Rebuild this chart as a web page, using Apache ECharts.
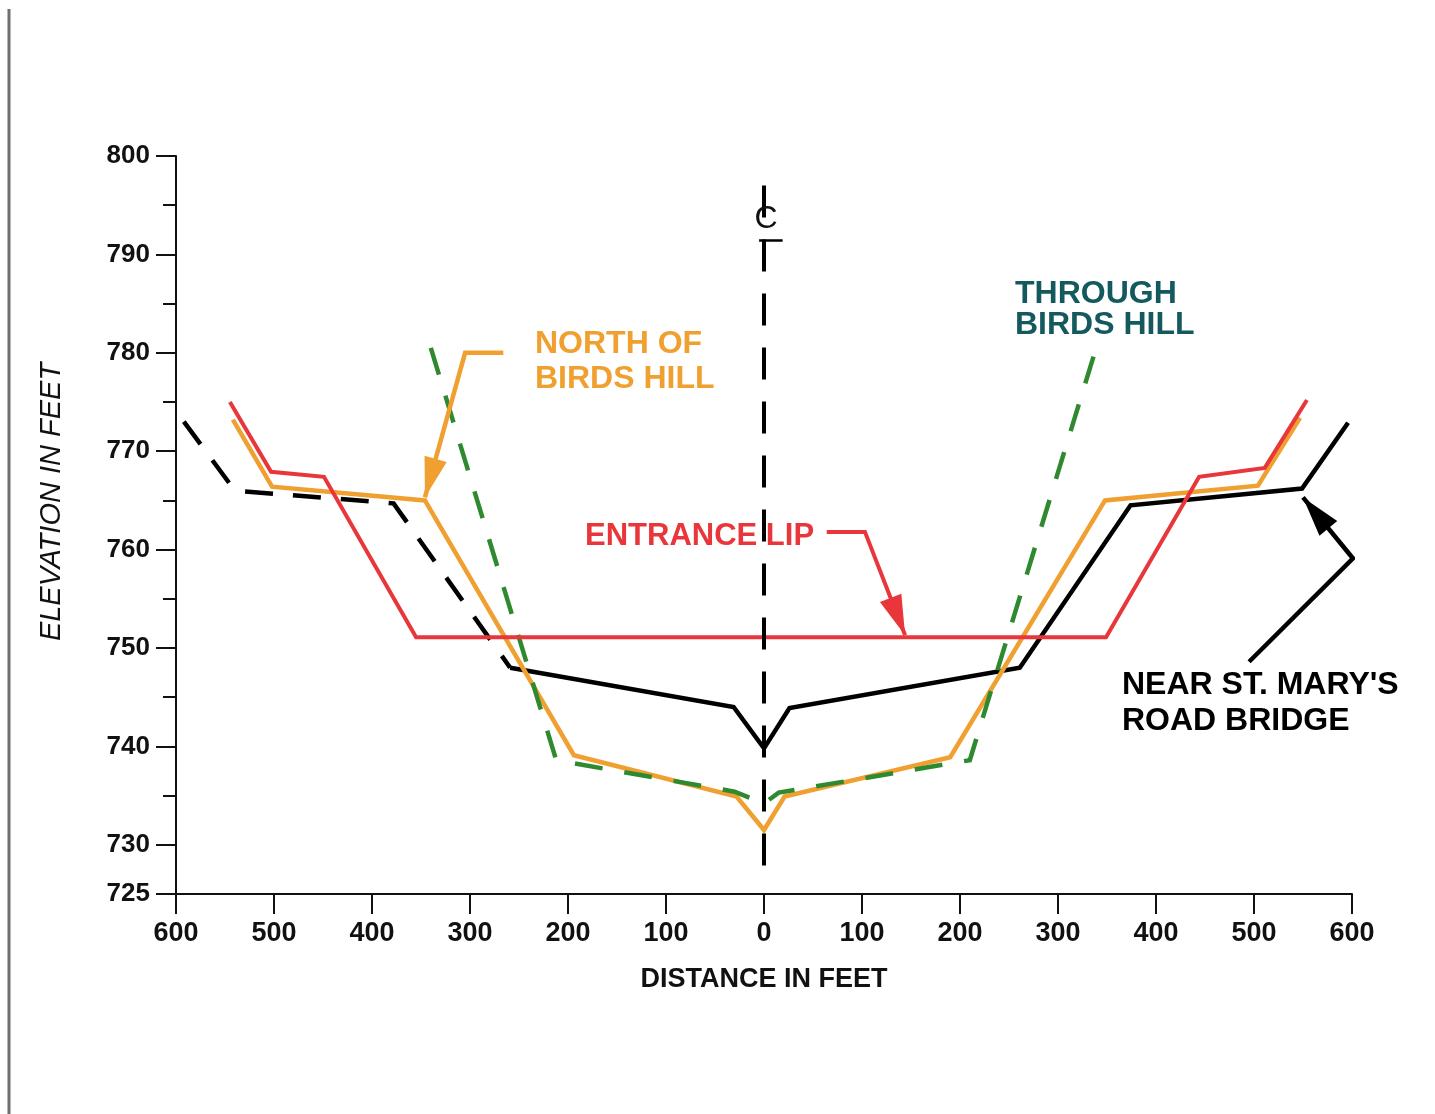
<!DOCTYPE html>
<html><head><meta charset="utf-8">
<script src="https://cdn.jsdelivr.net/npm/echarts@6/dist/echarts.min.js"></script>
<style>html,body{margin:0;padding:0;background:#fff}#c{width:1435px;height:1114px}</style>
</head><body><div id="c"></div>
<script>
// ---- data (distance in feet, negative = left of centerline; elevation in feet) ----
const yLabelValues = [725, 730, 740, 750, 760, 770, 780, 790, 800];
const yMinorValues = [735, 745, 755, 765, 775, 785, 795];
const stMarysDashed = [[-592, 773.0], [-540, 766.0], [-378, 764.7], [-259, 748.0]];
const stMarysSolid = [[-259, 748.0], [-31, 744.0], [0, 739.8], [26, 743.9], [261, 748.0], [374, 764.5], [549, 766.2], [596, 772.9]];
const entranceLip = [[-545, 775.0], [-503, 767.9], [-449, 767.4], [-355, 751.1], [349, 751.1], [444, 767.4], [511, 768.3], [554, 775.2]];
const northOfBirdsHill = [[-542, 773.2], [-502, 766.4], [-346, 765.0], [-194, 739.1], [-28, 734.9], [0, 731.5], [21, 734.9], [190, 738.9], [348, 765.0], [504, 766.5], [547, 773.4]];
const throughBirdsHill = [[-340, 780.5], [-212, 738.6], [-30, 735.4], [0, 734.2], [15, 735.3], [210, 738.6], [338, 780.2]];
const centerline = [[0, 797], [0, 727.5]];
const centerlineBar = [[-5, 791.4], [19, 791.4]];
const orangeArrow = [[-266, 780.0], [-305, 780.0], [-346, 765.3]];
const redArrow = [[64, 761.8], [103, 761.8], [144, 751.3]];
const blackArrow = [[495, 748.6], [601, 759.1], [550, 765.3]];

const C_ORANGE = '#f0a030', C_RED = '#e8363a', C_GREEN = '#2f8a2f', C_TEAL = '#13595e', C_BLACK = '#000';
const FONT = "'Liberation Sans',Arial,sans-serif";

const chart = echarts.init(document.getElementById('c'), null, {renderer: 'canvas'});
const lineS = (data, color, width, type, z) => ({
  type: 'line', data, symbol: 'none', silent: true, z: z || 2,
  lineStyle: {color, width, type: type || 'solid', cap: 'butt', join: 'miter'}
});
chart.setOption({
  animation: false,
  backgroundColor: '#fff',
  grid: {left: 176, right: 83, top: 156, bottom: 220, containLabel: false},
  xAxis: {
    type: 'value', min: -600, max: 600, interval: 100,
    axisLine: {show: true, onZero: false, lineStyle: {color: '#111', width: 2}},
    axisTick: {show: true, length: 20, lineStyle: {color: '#111', width: 2}},
    splitLine: {show: false},
    axisLabel: {formatter: v => String(Math.abs(v)), margin: 26, color: '#111',
      fontFamily: FONT, fontWeight: 'bold', fontSize: 27},
    name: 'DISTANCE IN FEET', nameLocation: 'middle', nameGap: 72,
    nameTextStyle: {color: '#111', fontWeight: 'bold', fontSize: 27, fontFamily: FONT}
  },
  yAxis: [{
    type: 'value', min: 725, max: 800,
    axisLine: {show: true, onZero: false, lineStyle: {color: '#111', width: 2}},
    axisTick: {show: true, length: 20, customValues: yLabelValues, lineStyle: {color: '#111', width: 2}},
    axisLabel: {customValues: yLabelValues, margin: 26, color: '#111', fontWeight: 'bold', fontSize: 26,
      fontFamily: FONT},
    splitLine: {show: false}
  }, {
    type: 'value', min: 725, max: 800, position: 'left',
    axisLine: {show: false, onZero: false},
    axisTick: {show: true, length: 13, customValues: yMinorValues, lineStyle: {color: '#111', width: 2}},
    axisLabel: {show: false},
    splitLine: {show: false}
  }],
  series: [
    lineS(stMarysDashed, C_BLACK, 4.5, [28, 20], 3),
    lineS(stMarysSolid, C_BLACK, 4.5, 'solid', 3),
    lineS(northOfBirdsHill, C_ORANGE, 4.5, 'solid', 4),
    lineS(throughBirdsHill, C_GREEN, 4.5, [28, 22], 5),
    lineS(entranceLip, C_RED, 4, 'solid', 6),
    lineS(centerline, C_BLACK, 4, [32, 22], 7),
    lineS(centerlineBar, C_BLACK, 2.5, 'solid', 7),
    lineS(orangeArrow, C_ORANGE, 4.5, 'solid', 8),
    lineS(redArrow, C_RED, 4, 'solid', 8),
    lineS(blackArrow, C_BLACK, 4.5, 'solid', 8)
  ]
});

function head(pts, color) {
  const a = chart.convertToPixel({gridIndex: 0}, pts[pts.length - 2]);
  const b = chart.convertToPixel({gridIndex: 0}, pts[pts.length - 1]);
  let dx = b[0] - a[0], dy = b[1] - a[1];
  const len = Math.hypot(dx, dy); dx /= len; dy /= len;
  const L = 40, W = 11.5;
  const bx = b[0] - dx * L, by = b[1] - dy * L;
  return {type: 'polygon', z: 100, silent: true,
    shape: {points: [b, [bx - dy * W, by + dx * W], [bx + dy * W, by - dx * W]]},
    style: {fill: color}};
}
function txt(x, y, s, color, size) {
  return {type: 'text', x, y, z: 100, silent: true,
    style: {text: s, fill: color, font: 'bold ' + size + 'px ' + FONT, verticalAlign: 'middle', align: 'left'}};
}
const cPos = chart.convertToPixel({gridIndex: 0}, [0, 793.6]);
chart.setOption({
  graphic: [
    {type: 'line', shape: {x1: 9, y1: 9, x2: 9, y2: 1114}, style: {stroke: '#6f6f6f', lineWidth: 3}},
    {type: 'text', x: 52, y: 502, rotation: Math.PI / 2, silent: true,
      style: {text: 'ELEVATION IN FEET', fill: '#111', font: 'italic 29px ' + FONT, align: 'center', verticalAlign: 'middle'}},
    {type: 'text', x: cPos[0] + 2, y: cPos[1], z: 100, silent: true,
      style: {text: 'C', fill: '#111', font: '32px ' + FONT, align: 'center', verticalAlign: 'middle'}},
    txt(535, 344, 'NORTH OF', C_ORANGE, 32),
    txt(535, 379, 'BIRDS HILL', C_ORANGE, 32),
    txt(585, 536, 'ENTRANCE LIP', C_RED, 31),
    txt(1015, 294, 'THROUGH', C_TEAL, 32),
    txt(1015, 325, 'BIRDS HILL', C_TEAL, 32),
    txt(1122, 685, "NEAR ST. MARY'S", C_BLACK, 32),
    txt(1122, 721, 'ROAD BRIDGE', C_BLACK, 32),
    head(orangeArrow, C_ORANGE),
    head(redArrow, C_RED),
    head(blackArrow, C_BLACK)
  ]
});
</script></body></html>
